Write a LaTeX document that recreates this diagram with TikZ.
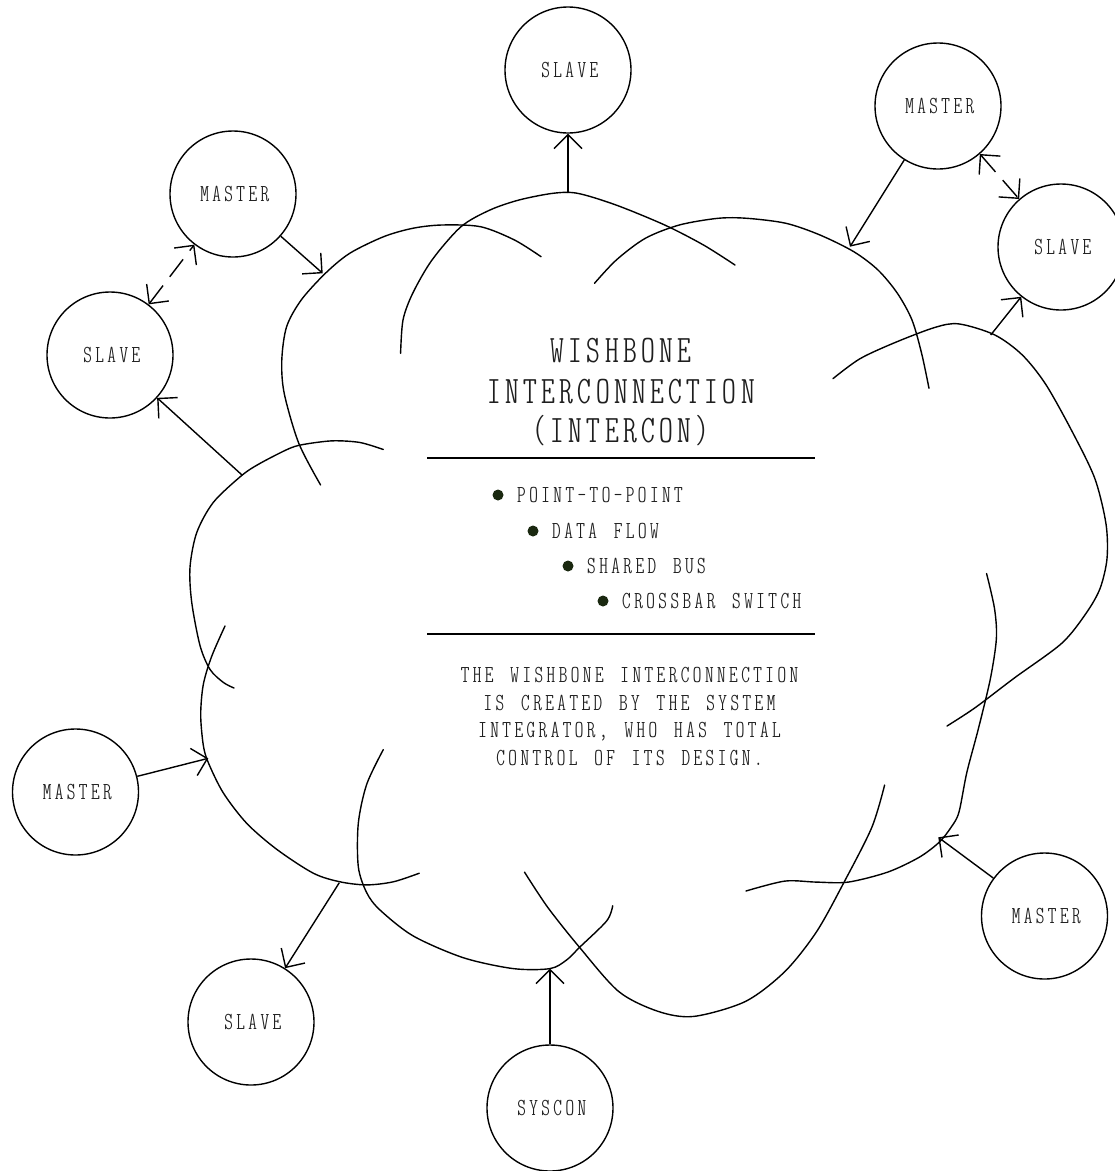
\documentclass[tikz,border=0pt]{standalone}
\usepackage{fontspec}
\usetikzlibrary{arrows.meta}
\newfontfamily\titlef[LetterSpace=11.5]{lmmonoltcond10-regular.otf}
\newfontfamily\smallf[LetterSpace=14.3,WordSpace=1.4]{lmmonoltcond10-regular.otf}
\definecolor{bulletc}{RGB}{26,40,16}
\definecolor{txtc}{RGB}{30,30,30}
\tikzset{
  unit/.style={circle, draw, line width=1.4pt, minimum size=126pt, inner sep=0pt,
    font=\smallf\fontsize{24.5}{28}\selectfont, text=txtc},
  arr/.style={line width=1.4pt, -{Straight Barb[length=14pt,width=28pt]}},
  darr/.style={line width=1.4pt, dash pattern=on 22pt off 11pt,
    {Straight Barb[length=14pt,width=28pt]}-{Straight Barb[length=14pt,width=28pt]}},
  cloudline/.style={line width=1.4pt, line join=round, line cap=round},
  title/.style={font=\titlef\fontsize{39}{40}\selectfont, text=txtc, anchor=base, inner sep=0pt},
  body/.style={font=\smallf\fontsize{24.5}{28}\selectfont, text=txtc, inner sep=0pt},
  rule/.style={line width=1.8pt},
  dot/.style={circle, fill=bulletc, minimum width=11pt, minimum height=10pt, inner sep=0pt}
}
\begin{document}
\begin{tikzpicture}[x=1pt,y=-1pt]
\useasboundingbox (0,0) rectangle (1115,1171);

% cloud arcs
\draw[cloudline] plot[smooth] coordinates {(320.6,485) (298.8,443.3) (284.2,393.3) (281.8,360) (286.6,326.7) (301.2,300) (325.4,273.3) (349.7,253.3) (383.6,236.7) (412.7,228.3) (441.8,225) (480.5,226.7) (514.5,240) (541.1,256.7)};
\draw[cloudline] plot[smooth] coordinates {(400.6,353.3) (403,320) (412.7,293.3) (432,260) (461,226.7) (490,210) (519,200) (553,193.3) (577.5,193.3) (616,205) (664.7,225) (703.5,245) (735,265)};
\draw[cloudline] plot[smooth] coordinates {(594.5,283.3) (616.3,260) (645.3,238.3) (679.3,225) (718,218.3) (747,218.3) (786,223.3) (820,235) (853.8,251.7) (878,270) (897.4,293.3) (912,320) (921.6,353.3) (929,388.3)};
\draw[cloudline] plot[smooth] coordinates {(833,378.6) (860,358.7) (895.6,342.3) (935,327.4) (958.9,323.9) (994.5,334.8) (1022,354.7) (1045.9,384.6) (1073.6,434.3) (1095,479) (1106,523.9) (1107,558.7) (1100,588.6) (1086,613.4) (1061.7,643.3) (1014.2,678.1) (974.7,708) (947,726)};
\draw[cloudline] plot[smooth] coordinates {(986.6,573.6) (994.5,608.5) (996.4,638.3) (990.5,678.1) (978.6,727.9) (966.8,772.6) (958.9,812.4) (951,827.4) (939.1,842.3) (919.3,857.2) (887.7,872.1) (848.1,882.1) (816.5,882.1) (784.8,881.1) (746,891)};
\draw[cloudline] plot[smooth] coordinates {(884.6,785.1) (871.8,827.4) (844.1,882.1) (816.5,931.8) (784.8,971.6) (745.3,1001.5) (693.8,1016.4) (658.2,1011.4) (618.7,991.5) (579.1,946.8) (547.5,907) (524.5,872.1)};
\draw[cloudline] plot[smooth] coordinates {(383.3,449.5) (360,442.5) (333.3,440.8) (306.7,443.9) (290,448.2) (260,463.4) (241.7,475.5) (213.3,502.4) (196.7,532.7) (190,567.4) (191.7,602.1) (200,645.5) (210,669.4) (223.3,682.4) (234,688)};
\draw[cloudline] plot[smooth] coordinates {(225,626) (211.7,656.3) (203.3,684.5) (200.7,714.9) (203.3,745.2) (208.3,762.6) (223.3,792.9) (246.7,823.3) (276.7,849.3) (313.3,873.2) (340,881.8) (366.7,884.9) (393.3,881.8) (419.3,873.2)};
\draw[cloudline] plot[smooth] coordinates {(383.3,749.6) (366.7,784.3) (358.3,823.3) (358.3,866.7) (366.7,892.7) (380,910) (413.3,936) (463.3,957.7) (513.3,968.6) (550,968.6) (566.7,959.9) (580,946.9) (606.7,920.9) (612.7,905.7)};

% connection points on the cloud
\coordinate (cT) at (568,193.3);
\coordinate (cTL) at (322.7,273.3);
\coordinate (cTR) at (850,246.7);
\coordinate (cR) at (990.7,335);
\coordinate (cL) at (242,475);
\coordinate (cML) at (208.3,758.3);
\coordinate (cBL) at (339.3,882.7);
\coordinate (cB) at (550,968.6);
\coordinate (cBR) at (938.3,837.3);

% units
\node[unit] (slaveT) at (568,70) {\hspace{3.5pt}SLAVE};
\node[unit] (masterTL) at (233,194) {\hspace{3.5pt}MASTER};
\node[unit] (slaveL) at (110,355) {\hspace{3.5pt}SLAVE};
\node[unit] (masterTR) at (938,106) {\hspace{3.5pt}MASTER};
\node[unit] (slaveR) at (1061,247) {\hspace{3.5pt}SLAVE};
\node[unit] (masterL) at (75.5,792) {\hspace{3.5pt}MASTER};
\node[unit] (slaveBL) at (251,1022) {\hspace{3.5pt}SLAVE};
\node[unit] (syscon) at (550,1108) {\hspace{3.5pt}SYSCON};
\node[unit] (masterBR) at (1044.5,916) {\hspace{3.5pt}MASTER};

% connectors
\draw[arr] (cT) -- (slaveT);
\draw[arr] (masterTL) -- (cTL);
\draw[arr] (masterTR) -- (cTR);
\draw[arr] (cR) -- (slaveR);
\draw[arr] (cL) -- (slaveL);
\draw[arr] (masterL) -- (cML);
\draw[arr] (cBL) -- (slaveBL);
\draw[arr] (syscon) -- (cB);
\draw[arr] (masterBR) -- (cBR);
\draw[darr] (slaveL) -- (masterTL);
\draw[darr] (masterTR) -- (slaveR);

% title
\node[title] (t1) at (621,362) {WISHBONE};
\node[title] (t2) at (621,403) {INTERCONNECTION};
\node[title] (t3) at (621,442) {(INTERCON)};

% rules
\coordinate (r1a) at (427,458); \coordinate (r1b) at (815,458);
\coordinate (r2a) at (427,634); \coordinate (r2b) at (815,634);
\draw[rule] (r1a) -- (r1b);
\draw[rule] (r2a) -- (r2b);

% bullets
\node[dot] (b1) at (498,495) {};
\node[dot] (b2) at (533,531) {};
\node[dot] (b3) at (568,566) {};
\node[dot] (b4) at (603,601) {};
\node[body, anchor=base west] (i1) at (517,502.5) {POINT-TO-POINT};
\node[body, anchor=base west] (i2) at (552,538.5) {DATA FLOW};
\node[body, anchor=base west] (i3) at (587,573.5) {SHARED BUS};
\node[body, anchor=base west] (i4) at (622,608.5) {CROSSBAR SWITCH};

% paragraph
\node[body, anchor=base] (p1) at (629.5,682) {THE WISHBONE INTERCONNECTION};
\node[body, anchor=base] (p2) at (629.5,710) {IS CREATED BY THE SYSTEM};
\node[body, anchor=base] (p3) at (629.5,737) {INTEGRATOR, WHO HAS TOTAL};
\node[body, anchor=base] (p4) at (629.5,765) {CONTROL OF ITS DESIGN.};
\end{tikzpicture}
\end{document}
